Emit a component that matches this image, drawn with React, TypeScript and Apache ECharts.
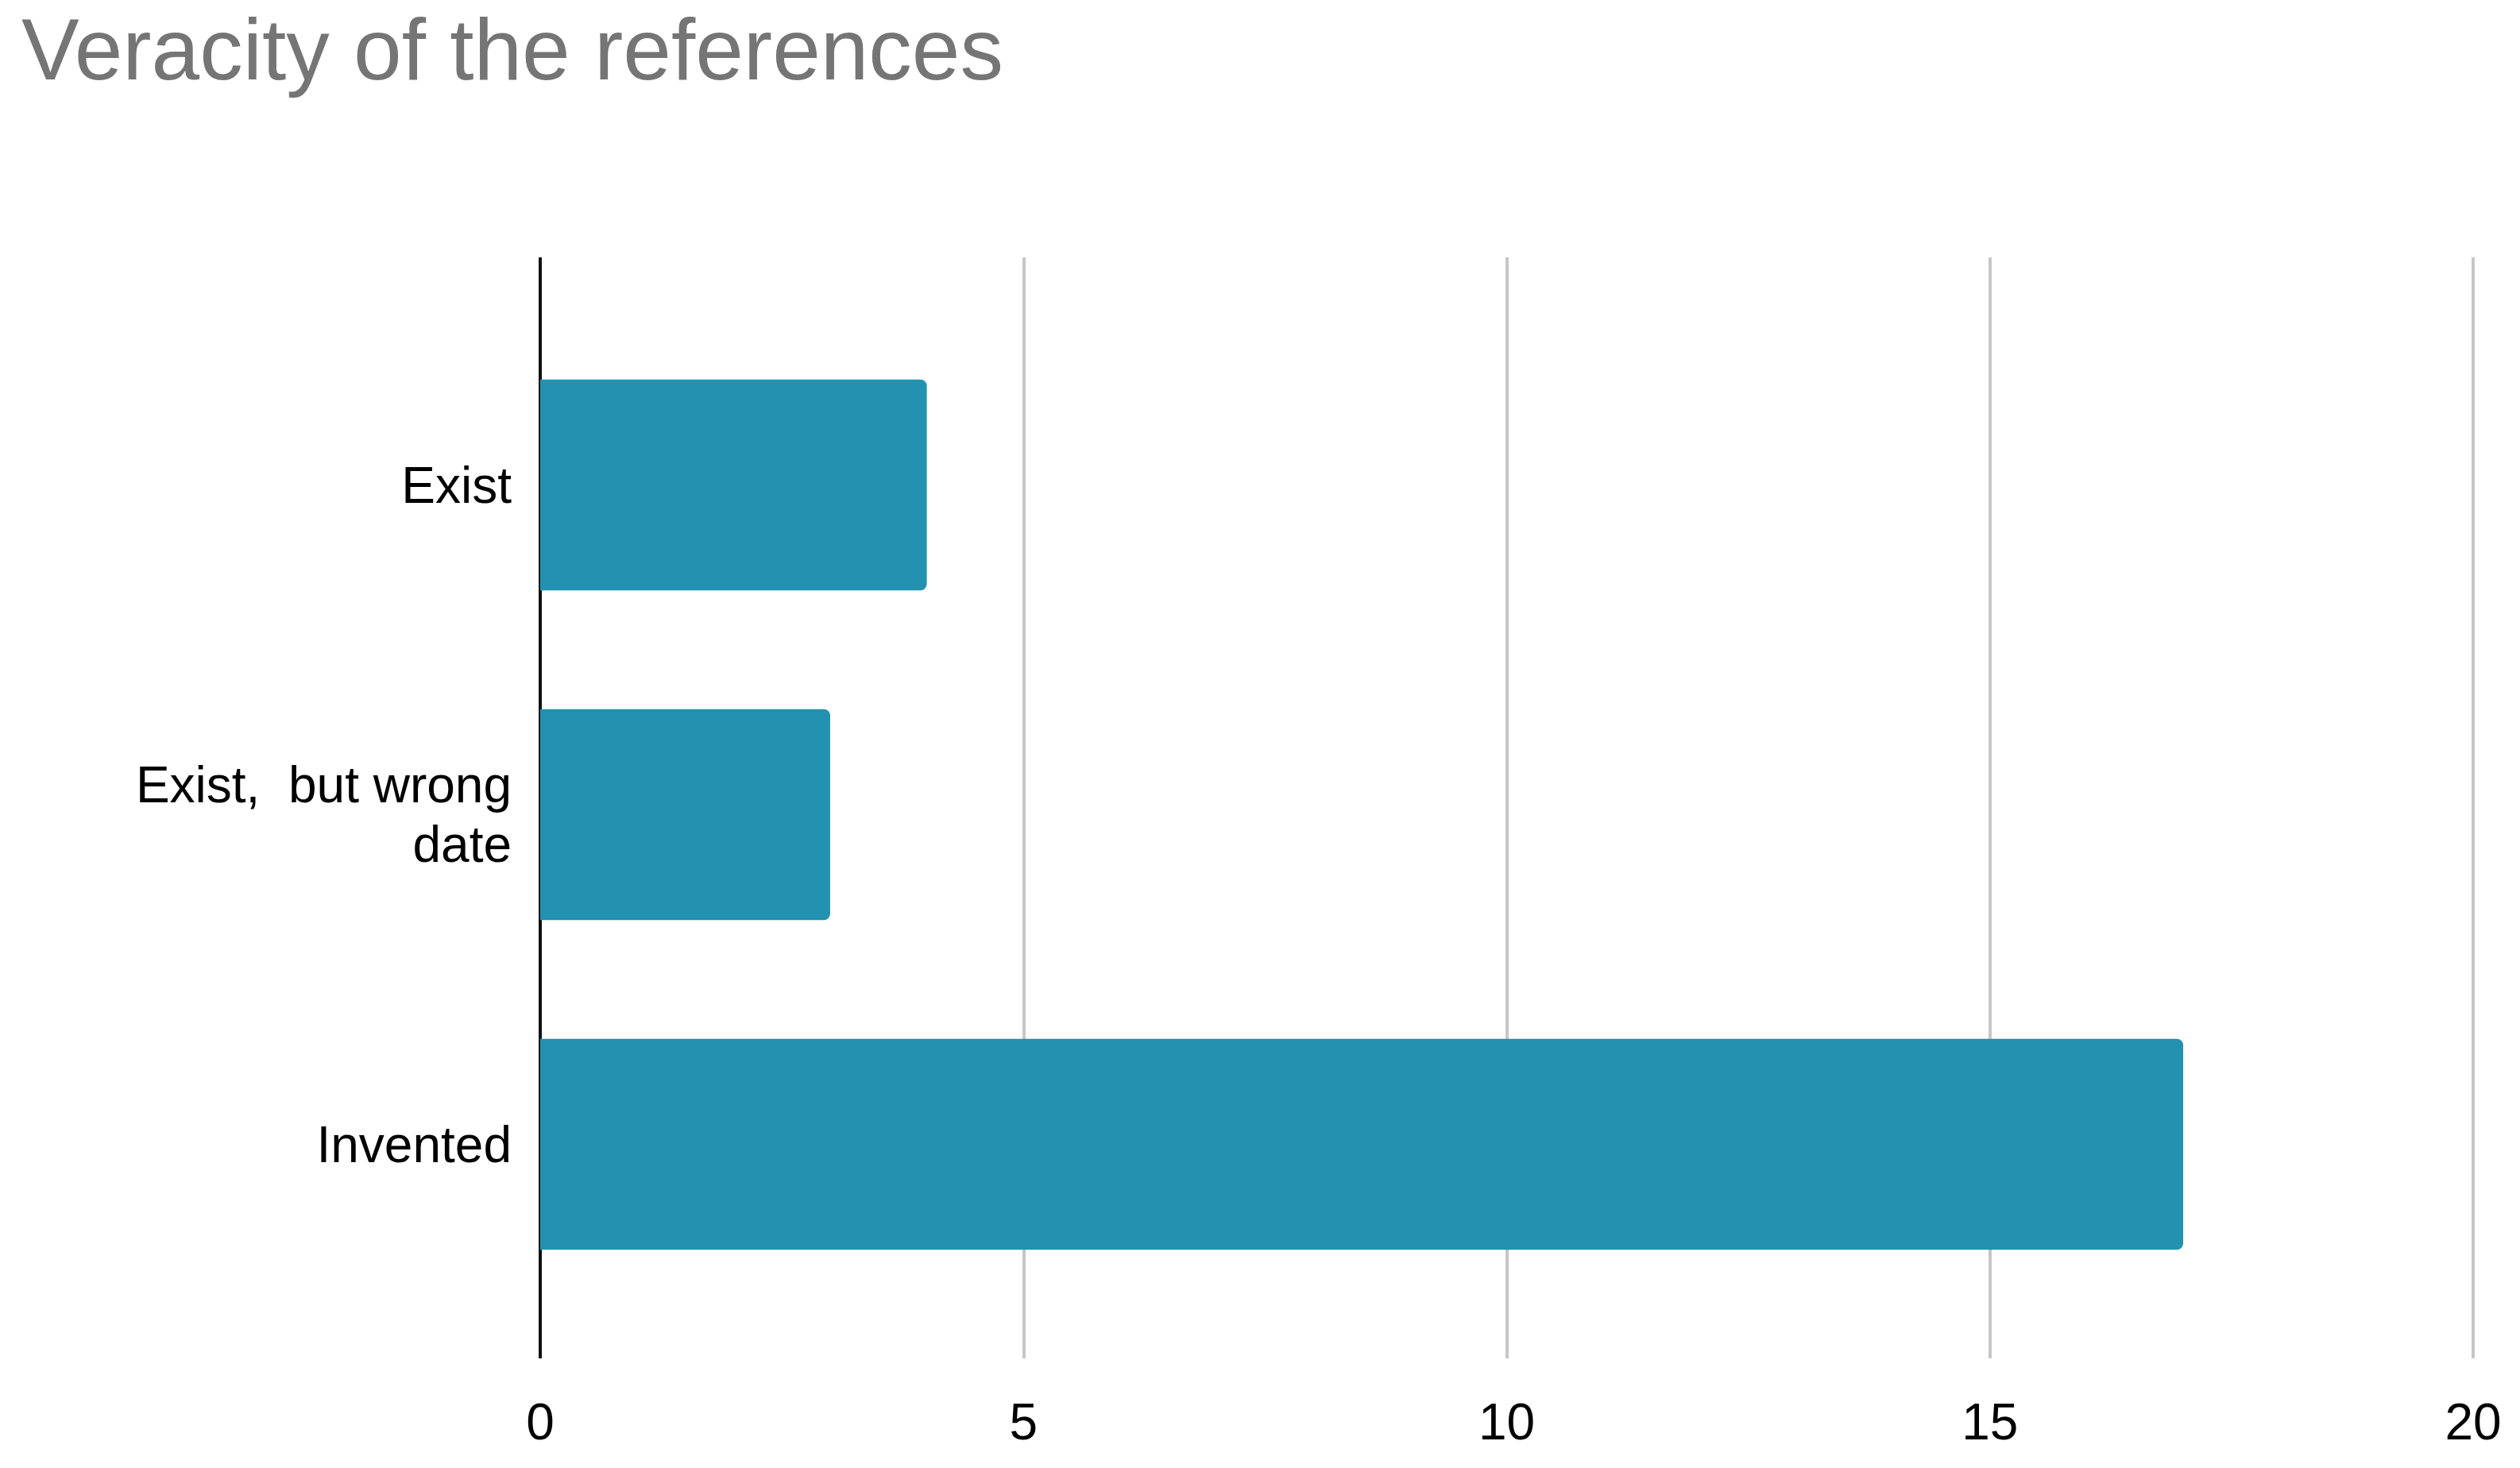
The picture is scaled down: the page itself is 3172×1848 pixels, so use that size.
import React, { useEffect, useRef } from "react";
import * as echarts from "echarts";

const titleText = "Veracity of the references";
const categories = ["Exist", "Exist, but wrong date"];
const allCategories = [...categories, "Invented"];
const values = [4, 3, 17];
const xTicks = [0, 5, 10, 15, 20];

export default function App() {
  const ref = useRef<HTMLDivElement>(null);
  useEffect(() => {
    if (!ref.current) return;
    const chart = echarts.init(ref.current, null, { renderer: "svg" });
    const font = "Liberation Sans, Arial, sans-serif";
    chart.setOption({
      animation: false,
      backgroundColor: "#ffffff",
      title: {
        text: titleText,
        left: 22,
        top: 2,
        textStyle: { fontSize: 109, color: "#757575", fontWeight: "normal", fontFamily: font },
      },
      grid: [
        { left: 680, right: 59, top: 324, bottom: 138 },
        { left: 680, right: 59, top: 403, height: 1245 },
      ],
      xAxis: [
        {
          type: "value",
          gridIndex: 0,
          min: xTicks[0],
          max: xTicks[xTicks.length - 1],
          interval: 5,
          axisLine: { show: false },
          axisTick: { show: false },
          axisLabel: { fontSize: 64, color: "#000", fontFamily: font, margin: 48 },
          splitLine: {
            show: true,
            lineStyle: { color: ["#111111", "#c6c6c6", "#c6c6c6", "#c6c6c6", "#c6c6c6"], width: 4 },
          },
        },
        {
          type: "value",
          gridIndex: 1,
          min: xTicks[0],
          max: xTicks[xTicks.length - 1],
          show: false,
        },
      ],
      yAxis: [
        { type: "value", gridIndex: 0, show: false, min: 0, max: 1 },
        {
          type: "category",
          gridIndex: 1,
          inverse: true,
          data: allCategories,
          axisLine: { show: false },
          axisTick: { show: false },
          axisLabel: {
            fontSize: 64,
            color: "#000",
            fontFamily: font,
            margin: 36,
            lineHeight: 75,
            formatter: (v: string) => (v === "Exist, but wrong date" ? "Exist,  but wrong\ndate" : v),
            align: "right",
          },
        },
      ],
      series: [
        {
          type: "bar",
          xAxisIndex: 1,
          yAxisIndex: 1,
          data: values,
          barCategoryGap: "36%",
          itemStyle: { color: "#2391b0", borderRadius: [0, 8, 8, 0] },
        },
      ],
    });
    return () => chart.dispose();
  }, []);
  return (
    <div
      ref={ref}
      style={{ position: "fixed", left: 0, top: 0, width: 3172, height: 1848, background: "#fff" }}
    />
  );
}
